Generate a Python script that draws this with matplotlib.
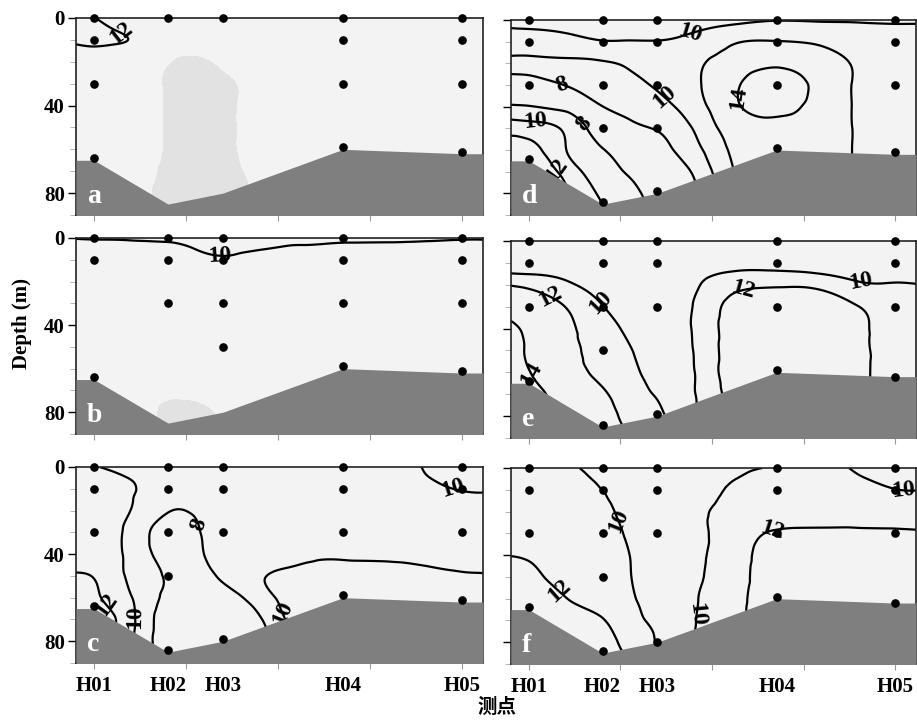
import numpy as np
import matplotlib
matplotlib.use('Agg')
import matplotlib.pyplot as plt
import matplotlib.tri as mtri

plt.rcParams['font.family'] = 'serif'
plt.rcParams['font.serif'] = ['Liberation Serif', 'DejaVu Serif']
plt.rcParams['font.weight'] = 'bold'

# stations along the section (distance units) and sea floor depth at each
stations = ['H01', 'H02', 'H03', 'H04', 'H05']
station_x = [0, 7.4, 12.9, 24.9, 36.8]
bottom_depth = [65, 85, 80, 60, 62]
x_lim = (-1.8, 38.9)

# sampling depths per station (m)
samples = {
    'a': [[0, 10, 30, 64], [0], [0], [0, 10, 30, 59], [0, 10, 30, 61]],
    'b': [[0, 10, 64], [0, 10, 30], [0, 10, 30, 50], [0, 10, 30, 59], [0, 10, 30, 61]],
    'c': [[0, 10, 30, 64], [0, 10, 30, 50, 84], [0, 10, 30, 79], [0, 10, 30, 59], [0, 10, 30, 61]],
    'd': [[0, 10, 30, 64], [0, 10, 30, 50, 84], [0, 10, 30, 50, 79], [0, 10, 30, 59], [0, 10, 30, 61]],
    'e': [[0, 10, 30, 64], [0, 10, 30, 50, 84], [0, 10, 30, 79], [0, 10, 30, 59], [0, 10, 30, 62]],
    'f': [[0, 10, 30, 64], [0, 10, 30, 50, 84], [0, 10, 30, 80], [0, 10, 30, 59], [0, 10, 30, 62]],
}

# gridded section values (rows = depth, columns = distance)
grid_x = [-1.8, 0, 3.7, 7.4, 10.2, 12.9, 16.9, 20.9, 24.9, 28.9, 32.9, 36.8, 38.9]
grid_depth = [0, 5, 10, 15, 20, 30, 40, 50, 60, 70, 80, 90]

temp_a = [
    [12.6, 12.05, 11.2, 11.2, 11.2, 11.2, 11.2, 11.2, 11.2, 11.2, 11.2, 11.2, 11.2],
    [12.6, 12.4, 11.58, 11.2, 11.2, 11.2, 11.2, 11.2, 11.2, 11.2, 11.2, 11.2, 11.2],
    [12.2, 12.3, 11.95, 11.3, 11.2, 11.2, 11.2, 11.2, 11.2, 11.2, 11.2, 11.2, 11.2],
    [11.7, 11.75, 11.5, 11.2, 11.2, 11.2, 11.2, 11.2, 11.2, 11.2, 11.2, 11.2, 11.2],
] + [[11.2] * 13 for _ in range(8)]

temp_b = [
    [9.91, 9.82, 9.66, 9.31, 9.5, 9.3, 9.4, 9.0, 9.0, 9.2, 9.5, 9.8, 9.8],
    [10.8, 10.8, 10.8, 10.8, 9.95, 9.6, 9.95, 10.4, 10.8, 10.8, 10.8, 10.8, 10.8],
    [11.0, 11.0, 11.0, 11.0, 10.8, 10.3, 10.8, 11.0, 11.0, 11.0, 11.0, 11.0, 11.0],
] + [[11.0] * 13 for _ in range(9)]

temp_c = [
    [11, 10.2, 9, 9, 9, 9, 9, 9, 9, 9, 10.05, 11, 11],
    [11, 11, 9.88, 9, 9, 9, 9, 9, 9, 9, 9.75, 11, 11],
    [11, 11, 10.2, 9, 9, 9, 9, 9, 9, 9, 9.2, 10.2, 10.3],
    [11, 11, 10.1, 8.6, 8.7, 9, 9, 9, 9, 9, 9, 9.4, 9.5],
    [11, 11, 9.97, 8.1, 8.3, 9, 9, 9, 9, 9, 9, 9, 9],
    [11, 11, 9.4, 7.0, 7.6, 9.6, 9, 9, 9, 9, 9, 9, 9],
    [11, 11, 9.46, 7.2, 7.5, 9.0, 9.0, 9.4, 9.6, 9.5, 9.2, 9.0, 8.9],
    [12.2, 11.9, 9.55, 7.81, 7.3, 8.35, 9.9, 10.8, 11.0, 11.0, 10.8, 10.3, 10.2],
    [13, 12.3, 10.1, 7.6, 7.2, 7.3, 9.2, 11.2, 11.2, 11.2, 11.2, 11.2, 11.2],
    [13, 13, 10.5, 7.0, 7.0, 7.2, 8.06, 11.3, 11.2, 11.2, 11.2, 11.2, 11.2],
    [13, 13, 10.3, 7.0, 7.0, 7.2, 7.6, 10.5, 11.2, 11.2, 11.2, 11.2, 11.2],
    [13, 13, 10.3, 7.0, 7.0, 7.2, 7.6, 10.5, 11.2, 11.2, 11.2, 11.2, 11.2],
]

temp_d = [
    [9.2, 9.2, 9.0, 9.0, 9.0, 9.0, 9.2, 9.5, 9.9, 9.8, 9.7, 9.6, 9.6],
    [10.3, 10.2, 9.8, 9.3, 9.3, 9.3, 9.95, 10.8, 11.2, 11.0, 10.8, 10.6, 10.6],
    [11.0, 11.0, 10.6, 10.1, 10.1, 10.1, 10.8, 11.9, 12.05, 11.8, 11.2, 11.0, 11.0],
    [10.3, 10.3, 10.4, 10.5, 10.6, 10.8, 11.5, 12.4, 12.8, 12.5, 11.5, 11.0, 11.0],
    [9.3, 9.3, 9.6, 9.8, 10.3, 10.9, 11.8, 12.9, 13.6, 13.0, 11.8, 11.0, 11.0],
    [7.0, 7.2, 8.05, 8.8, 9.5, 10.2, 11.8, 13.8, 15.2, 13.5, 11.85, 11.0, 11.0],
    [8.25, 8.1, 7.6, 7.98, 8.6, 9.3, 11.3, 13.8, 14.6, 13.4, 11.85, 11.0, 11.0],
    [11.17, 10.9, 9.6, 7.2, 7.6, 8.1, 10.4, 13.0, 13.5, 13.2, 11.85, 11.0, 11.0],
    [12.97, 12.8, 10.05, 8.1, 7.2, 7.5, 9.5, 12.5, 13.0, 12.9, 11.85, 11.0, 11.0],
    [13.5, 13.5, 11.3, 8.8, 7.8, 7.2, 8.5, 12.2, 12.8, 12.8, 11.8, 11.0, 11.0],
    [13.5, 13.5, 12.3, 9.6, 8.4, 7.3, 7.9, 12.0, 12.8, 12.8, 11.8, 11.0, 11.0],
    [13.5, 13.5, 13.0, 10.2, 9.0, 7.6, 7.5, 12.0, 12.8, 12.8, 11.8, 11.0, 11.0],
]

temp_e = [
    [9, 9, 9, 9, 9, 9, 9, 9, 9, 9, 9, 9, 9],
    [9, 9, 9, 9, 9, 9, 9, 9, 9, 9, 9, 9, 9],
    [9.3, 9.2, 9.1, 9, 9, 9, 9, 9.4, 9.5, 9.3, 9.1, 9, 9],
    [10.05, 9.95, 9.6, 9.1, 9, 9, 9.5, 10.3, 10.3, 10.05, 9.6, 9.5, 9.4],
    [11.9, 11.5, 10.3, 9.4, 9.1, 9, 9.85, 11.4, 11.7, 11.5, 10.3, 10.1, 10.05],
    [12.5, 13.0, 11.95, 10.05, 9.3, 9, 10.3, 12.8, 13.0, 12.9, 12.1, 11.0, 10.9],
    [15.0, 13.3, 12.3, 10.8, 9.6, 9, 10.4, 13.0, 13.2, 13.1, 12.5, 11.2, 11.1],
    [15.5, 13.6, 12.4, 11.2, 10.1, 9, 10.3, 13.0, 13.2, 13.1, 12.5, 11.3, 11.2],
    [15.5, 14.1, 12.6, 11.6, 10.6, 9, 10.2, 13.0, 13.2, 13.1, 12.5, 11.3, 11.2],
    [15.5, 15.0, 13.0, 12.2, 11.0, 9.8, 10.1, 12.9, 13.2, 13.1, 12.4, 11.3, 11.2],
    [15.5, 15.5, 13.5, 12.6, 11.4, 10.3, 10.02, 12.9, 13.2, 13.1, 12.4, 11.3, 11.2],
    [15.5, 15.5, 14.0, 13.0, 11.8, 10.5, 10.02, 12.9, 13.2, 13.1, 12.4, 11.3, 11.2],
]

temp_f = [
    [11.2, 11.2, 10.6, 9.0, 9.0, 9.0, 9.0, 9.6, 10.1, 10.5, 9.8, 9.0, 9.0],
    [11.2, 11.2, 11.06, 9.5, 9.0, 9.0, 9.0, 10.02, 10.6, 10.9, 10.3, 9.4, 9.2],
    [11.2, 11.2, 11.2, 9.98, 9.0, 9.0, 9.0, 10.5, 10.9, 11.0, 10.9, 10.05, 9.95],
    [11.2, 11.2, 11.2, 10.3, 9.2, 9.0, 9.2, 10.8, 11.0, 11.1, 11.1, 10.6, 10.5],
    [11.2, 11.2, 11.2, 10.5, 9.4, 9.0, 9.5, 11.0, 11.2, 11.3, 11.3, 11.1, 11.0],
    [11.2, 11.2, 11.2, 10.7, 9.7, 9.0, 9.6, 11.1, 12.2, 12.3, 12.3, 12.25, 12.2],
    [11.95, 11.8, 11.3, 10.8, 9.97, 9.1, 9.7, 11.2, 13.0, 13.0, 13.0, 13.0, 13.0],
    [12.8, 12.5, 11.4, 11.0, 10.05, 9.2, 9.8, 11.3, 13.1, 13.0, 13.0, 13.0, 13.0],
    [13.2, 13.2, 12.05, 11.3, 10.3, 9.2, 9.95, 11.5, 13.1, 13.0, 13.0, 13.0, 13.0],
    [13.5, 13.5, 12.6, 12.1, 10.6, 9.8, 10.02, 11.5, 13.1, 13.0, 13.0, 13.0, 13.0],
    [13.5, 13.5, 13.0, 12.6, 11.2, 9.95, 10.1, 11.5, 13.1, 13.0, 13.0, 13.0, 13.0],
    [13.5, 13.5, 13.3, 13.0, 12.1, 10.05, 10.2, 11.5, 13.1, 13.0, 13.0, 13.0, 13.0],
]

# shaded water body index (shaded where > 0.5)
shade_a = [[0] * 13 for _ in range(4)] + [
    [0, 0, 0, 0.35, 0.9, 0.1, 0, 0, 0, 0, 0, 0, 0],
    [0, 0, 0, 0.6, 1, 0.8, 0, 0, 0, 0, 0, 0, 0],
    [0, 0, 0, 0.6, 1, 0.8, 0, 0, 0, 0, 0, 0, 0],
    [0, 0, 0, 0.6, 1, 0.8, 0, 0, 0, 0, 0, 0, 0],
    [0, 0, 0, 0.6, 1, 0.8, 0, 0, 0, 0, 0, 0, 0],
    [0, 0, 0, 0.7, 1, 0.9, 0.1, 0, 0, 0, 0, 0, 0],
    [0, 0, 0.1, 0.8, 1, 1, 0.23, 0, 0, 0, 0, 0, 0],
    [0, 0, 0.1, 0.8, 1, 1, 0.23, 0, 0, 0, 0, 0, 0],
]
shade_b = [[0] * 13 for _ in range(10)] + [
    [0, 0, -0.6, 1, 1, 0.25, 0, 0, 0, 0, 0, 0, 0],
    [0, 0, -0.6, 1, 1, 0.25, 0, 0, 0, 0, 0, 0, 0],
]

fields = {'a': temp_a, 'b': temp_b, 'c': temp_c, 'd': temp_d, 'e': temp_e, 'f': temp_f}
shades = {'a': shade_a, 'b': shade_b}
levels = [8, 10, 12, 14]

label_spots = {
    'a': [(2.6, 7.8)],
    'b': [(12.6, 7)],
    'c': [(3.8, 69), (0.8, 65), (10.3, 26.7), (18.8, 67.3), (35.7, 12)],
    'd': [(16.2, 6.4), (3.3, 30.3), (13.6, 35.5), (21.2, 36), (5.3, 48.6), (0.6, 48.6), (2.6, 70)],
    'e': [(7.1, 28.5), (2.1, 25.7), (0.3, 60.6), (21.5, 23), (33.3, 18.8)],
    'f': [(9.3, 24), (2.9, 57.3), (16.5, 67), (24.5, 30.7), (37.6, 11)],
}

# triangulated grid, refined with a cubic interpolator for smooth isolines
gx, gd = np.meshgrid(grid_x, grid_depth)
ny, nx = gx.shape
idx = np.arange(ny * nx).reshape(ny, nx)
p0, p1 = idx[:-1, :-1].ravel(), idx[:-1, 1:].ravel()
p2, p3 = idx[1:, 1:].ravel(), idx[1:, :-1].ravel()
triangles = np.vstack([np.column_stack([p0, p1, p2]), np.column_stack([p0, p2, p3])])
yscale = 0.22
base_tri = mtri.Triangulation(gx.ravel(), gd.ravel() * yscale, triangles)
refiner = mtri.UniformTriRefiner(base_tri)


def smooth(values):
    t, z = refiner.refine_field(np.ravel(np.array(values, dtype=float)), subdiv=4)
    return mtri.Triangulation(t.x, t.y / yscale, t.triangles), z


fig = plt.figure(figsize=(9.17, 7.22), dpi=100)
positions = {
    'a': [0.0829, 0.7022, 0.4438, 0.2729],
    'b': [0.0829, 0.3989, 0.4438, 0.2715],
    'c': [0.0829, 0.0817, 0.4438, 0.2715],
    'd': [0.5572, 0.7022, 0.4417, 0.2701],
    'e': [0.5572, 0.3934, 0.4417, 0.2729],
    'f': [0.5572, 0.0803, 0.4417, 0.2715],
}

bx = [x_lim[0]] + station_x + [x_lim[1]]
bd = [bottom_depth[0]] + bottom_depth + [bottom_depth[-1]]

for key in 'abcdef':
    ax = fig.add_axes(positions[key])
    ax.set_facecolor('#f3f3f3')

    if key in shades:
        st, sz = smooth(shades[key])
        ax.tricontourf(st, sz, levels=[0.5, 5], colors=['#e2e2e2'], zorder=1)

    ft, fz = smooth(fields[key])
    cs = ax.tricontour(ft, fz, levels=levels, colors='k', linewidths=1.6, zorder=2)
    texts = ax.clabel(cs, manual=label_spots[key], inline=False, fmt='%d', fontsize=17)
    for t in texts:
        t.set_zorder(2.5)
        t.set_fontweight('bold')
        t.set_clip_on(True)

    ax.fill_between(bx, bd, 95, color='#7f7f7f', lw=0, zorder=3)

    for sx, depths in zip(station_x, samples[key]):
        ax.plot([sx] * len(depths), depths, 'o', color='k', ms=5.2, zorder=4, clip_on=False)

    ax.text(-0.7, 84.5, key, color='white', fontsize=20, fontweight='bold',
            ha='left', va='baseline', zorder=5)

    ax.set_xlim(*x_lim)
    ax.set_ylim(90, 0)
    ax.set_yticks([0, 40, 80])
    ax.set_yticks(np.arange(0, 91, 10), minor=True)
    ax.xaxis.remove_overlapping_locs = False
    ax.set_xticks(np.linspace(0, 36.8, 5))
    ax.set_xticks(station_x, minor=True)
    ax.set_xticklabels([])
    ax.set_xticklabels(stations if key in 'cf' else [''] * 5, minor=True)
    ax.tick_params(axis='x', which='major', length=4, width=0.8, color='#999999')
    ax.tick_params(axis='x', which='minor', length=0, pad=9, labelsize=15)
    ax.tick_params(axis='y', which='major', length=6, width=1, labelsize=15, pad=2)
    ax.tick_params(axis='y', which='minor', length=4, width=0.6, color='#aaaaaa')
    if key in 'def':
        ax.set_yticklabels([])
    for s in ax.spines.values():
        s.set_linewidth(1.2)
        s.set_color('#222222')

fig.text(0.024, 0.552, 'Depth (m)', rotation=90, ha='center', va='center', fontsize=15)
fig.text(0.542, 0.021, '测点', ha='center', va='center', fontsize=14,
         family=['Noto Sans CJK SC', 'DejaVu Sans'])

fig.savefig('out.png', dpi=100)
